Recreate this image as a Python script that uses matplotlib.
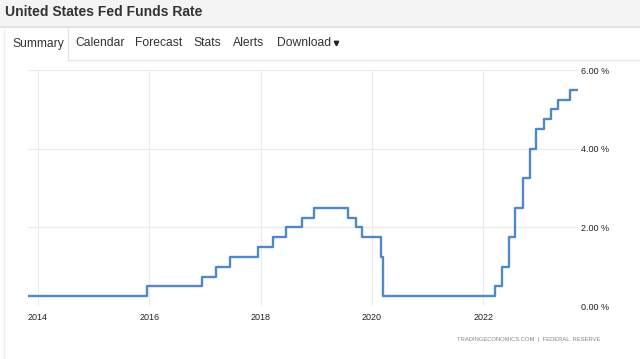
import pandas as pd
import matplotlib
matplotlib.use("Agg")
import matplotlib.pyplot as plt
import matplotlib.dates as mdates
from matplotlib.patches import Rectangle

# fed funds rate (upper bound), step changes
dates = ['2013-10-28', '2015-12-17', '2016-12-15', '2017-03-16', '2017-06-15',
         '2017-12-14', '2018-03-22', '2018-06-14', '2018-09-27', '2018-12-20',
         '2019-08-01', '2019-09-19', '2019-10-31', '2020-03-04', '2020-03-16',
         '2022-03-17', '2022-05-05', '2022-06-16', '2022-07-28', '2022-09-22',
         '2022-11-03', '2022-12-15', '2023-02-02', '2023-03-23', '2023-05-04',
         '2023-07-27', '2023-09-15']
rates = [0.25, 0.5, 0.75, 1.0, 1.25, 1.5, 1.75, 2.0, 2.25, 2.5,
         2.25, 2.0, 1.75, 1.25, 0.25, 0.5, 1.0, 1.75, 2.5, 3.25,
         4.0, 4.5, 4.75, 5.0, 5.25, 5.5, 5.5]
year_ticks = ['2014', '2016', '2018', '2020', '2022']
y_ticks = [0, 2, 4, 6]
tabs = ['Summary', 'Calendar', 'Forecast', 'Stats', 'Alerts', 'Download']
tab_x = [12, 75, 135, 193, 233, 277]

plt.rcParams['font.family'] = ['Liberation Sans', 'DejaVu Sans']

fig = plt.figure(figsize=(6.4, 3.59), dpi=100)

# page chrome drawn in pixel coordinates
bg = fig.add_axes([0, 0, 1, 1])
bg.set_xlim(0, 640)
bg.set_ylim(359, 0)
bg.axis('off')
bg.add_patch(Rectangle((0, 0), 640, 26, color='#f4f4f4', lw=0))
bg.plot([0, 640], [27, 27], color='#e2e2e2', lw=1.5)
bg.text(5, 12, 'United States Fed Funds Rate', fontsize=10, fontweight='bold',
        color='#333333', va='center')
bg.plot([68, 640], [59.5, 59.5], color='#e6e6e6', lw=1)
bg.plot([3.5, 3.5], [28, 359], color='#efefef', lw=1)
bg.plot([68, 68], [28, 59.5], color='#e6e6e6', lw=1)
for t, x in zip(tabs, tab_x):
    bg.text(x, 43.5, t, fontsize=8.7, color='#333333', va='center')
bg.plot([336], [43], marker='v', ms=3.2, color='#222222')
bg.text(600, 339, 'TRADINGECONOMICS.COM  |  FEDERAL  RESERVE', fontsize=4.2,
        color='#888888', ha='right', va='center')

ax = fig.add_axes([28 / 640, 1 - 306 / 359, 550 / 640, 236 / 359])
x = pd.to_datetime(dates)
ax.step(x, rates, where='post', color='#5089c3', lw=1.7)
ax.set_xlim(x[0], x[-1])
ax.set_ylim(0, 6)
ax.set_facecolor('none')
for s in ax.spines.values():
    s.set_visible(False)
ax.set_xticks(pd.to_datetime([y + '-01-01' for y in year_ticks]))
ax.xaxis.set_major_formatter(mdates.DateFormatter('%Y'))
ax.set_yticks(y_ticks)
ax.set_yticklabels(['%.2f %%' % v for v in y_ticks])
ax.yaxis.tick_right()
ax.tick_params(axis='both', length=0, labelsize=6.5, colors='#222222')
ax.tick_params(axis='x', pad=5)
ax.tick_params(axis='y', pad=2)
ax.grid(True, color='#ebebeb', lw=0.8)
ax.set_axisbelow(True)

fig.savefig('out.png', dpi=100)
